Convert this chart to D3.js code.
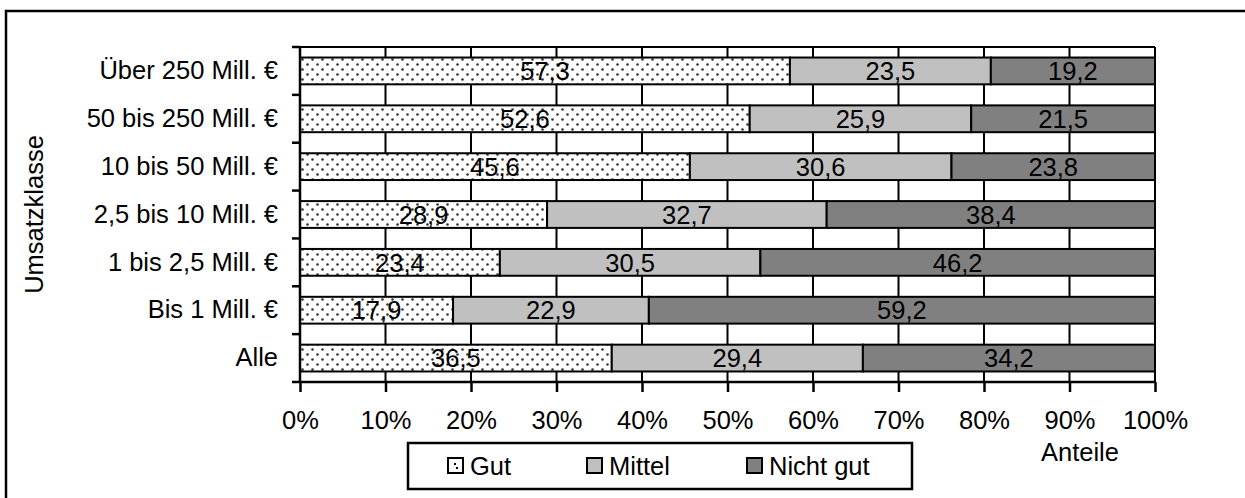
<!DOCTYPE html>
<html>
<head>
<meta charset="utf-8">
<script src="https://cdn.jsdelivr.net/npm/d3@7"></script>
<style>
  body { margin: 0; background: #fff; }
  text { font-family: "Liberation Sans", Arial, sans-serif; fill: #000; }
</style>
</head>
<body>
<script>
// 100% stacked horizontal bars, values per class

var categories = ["Über 250 Mill. €", "50 bis 250 Mill. €", "10 bis 50 Mill. €", "2,5 bis 10 Mill. €", "1 bis 2,5 Mill. €", "Bis 1 Mill. €", "Alle"];
var seriesNames = ["Gut", "Mittel", "Nicht gut"];
var gut      = [57.3, 52.6, 45.6, 28.9, 23.4, 17.9, 36.5];
var mittel   = [23.5, 25.9, 30.6, 32.7, 30.5, 22.9, 29.4];
var nichtGut = [19.2, 21.5, 23.8, 38.4, 46.2, 59.2, 34.2];
var xTicks = [0, 0.1, 0.2, 0.3, 0.4, 0.5, 0.6, 0.7, 0.8, 0.9, 1];

var width = 1245, height = 498;
var margin = {left: 300, right: 90, top: 47, bottom: 116};
var innerW = width - margin.left - margin.right;   // 855
var innerH = height - margin.top - margin.bottom;  // 335
var fs = 25.5;

var rows = categories.map(function(c, i) {
  return {cat: c, "Gut": gut[i], "Mittel": mittel[i], "Nicht gut": nichtGut[i]};
});

var stack = d3.stack().keys(seriesNames).offset(d3.stackOffsetExpand);
var layers = stack(rows);

var x = d3.scaleLinear().domain([0, 1]).range([0, innerW]);
var y = d3.scaleBand().domain(categories).range([0, innerH]).paddingInner(0.44).paddingOuter(0.22);

var svg = d3.select("body").append("svg").attr("width", width).attr("height", height);

// dotted fill for "Gut"
var defs = svg.append("defs");
var pat = defs.append("pattern").attr("id", "dots").attr("patternUnits", "userSpaceOnUse")
  .attr("width", 10).attr("height", 10);
pat.append("rect").attr("width", 10).attr("height", 10).attr("fill", "#fff");
pat.append("circle").attr("cx", 2.5).attr("cy", 2.5).attr("r", 1.3).attr("fill", "#333");
pat.append("circle").attr("cx", 7.5).attr("cy", 7.5).attr("r", 1.3).attr("fill", "#333");

var fills = {"Gut": "url(#dots)", "Mittel": "#c0c0c0", "Nicht gut": "#808080"};

// outer chart border
svg.append("rect").attr("x", 6).attr("y", 11).attr("width", 1260).attr("height", 500)
  .attr("fill", "none").attr("stroke", "#000").attr("stroke-width", 2.5);

var g = svg.append("g").attr("transform", "translate(" + margin.left + "," + margin.top + ")");

// gridlines
g.append("g").selectAll("line").data(xTicks.slice(1)).join("line")
  .attr("x1", function(d) { return x(d); }).attr("x2", function(d) { return x(d); })
  .attr("y1", 0).attr("y2", innerH)
  .attr("stroke", "#000").attr("stroke-width", 2);
g.append("line").attr("x1", 0).attr("x2", innerW).attr("y1", 0).attr("y2", 0)
  .attr("stroke", "#000").attr("stroke-width", 2);

// bars
var layer = g.selectAll("g.layer").data(layers).join("g").attr("class", "layer")
  .attr("fill", function(d) { return fills[d.key]; });
layer.selectAll("rect").data(function(d) { return d; }).join("rect")
  .attr("x", function(d) { return x(d[0]); })
  .attr("y", function(d) { return y(d.data.cat); })
  .attr("width", function(d) { return x(d[1]) - x(d[0]); })
  .attr("height", y.bandwidth())
  .attr("stroke", "#000").attr("stroke-width", 2);

// value labels
layers.forEach(function(l) {
  g.append("g").selectAll("text").data(l).join("text")
    .attr("x", function(d) { return (x(d[0]) + x(d[1])) / 2; })
    .attr("y", function(d) { return y(d.data.cat) + y.bandwidth() / 2; })
    .attr("dy", "0.36em")
    .attr("text-anchor", "middle")
    .attr("font-size", fs)
    .text(function(d) { return String(d.data[l.key]).replace(".", ","); });
});

// axes
var xAxis = d3.axisBottom(x).tickValues(xTicks).tickFormat(d3.format(".0%")).tickSize(10).tickPadding(19);
var gx = g.append("g").attr("transform", "translate(0," + innerH + ")").call(xAxis);
gx.select(".domain").attr("stroke-width", 2.5).attr("d", "M0,0H" + innerW);
gx.selectAll(".tick line").attr("stroke-width", 2.5);
gx.selectAll("text").attr("font-size", fs).attr("font-family", "Liberation Sans, Arial, sans-serif");

var yAxis = d3.axisLeft(y).tickSize(0).tickPadding(22);
var gy = g.append("g").call(yAxis);
gy.select(".domain").attr("stroke-width", 2.5).attr("d", "M0,0V" + innerH);
gy.selectAll("text").attr("font-size", fs).attr("font-family", "Liberation Sans, Arial, sans-serif");

// y ticks at band boundaries
var step = y.step();
g.append("g").selectAll("line").data(d3.range(categories.length + 1)).join("line")
  .attr("x1", -8).attr("x2", 0)
  .attr("y1", function(i) { return i * step; }).attr("y2", function(i) { return i * step; })
  .attr("stroke", "#000").attr("stroke-width", 2.5);

// axis titles
svg.append("text").attr("transform", "translate(43," + (margin.top + innerH / 2) + ") rotate(-90)")
  .attr("text-anchor", "middle").attr("font-size", fs).text("Umsatzklasse");
svg.append("text").attr("x", 1080).attr("y", 461).attr("text-anchor", "middle")
  .attr("font-size", fs).text("Anteile");

// legend
var lg = svg.append("g");
lg.append("rect").attr("x", 408).attr("y", 443).attr("width", 504).attr("height", 46)
  .attr("fill", "#fff").attr("stroke", "#000").attr("stroke-width", 2.5);
var legX = [448, 587, 747];
var item = lg.selectAll("g.item").data(seriesNames).join("g").attr("class", "item")
  .attr("transform", function(d, i) { return "translate(" + legX[i] + ",458)"; });
item.append("rect").attr("width", 15).attr("height", 15)
  .attr("fill", function(d) { return d === "Gut" ? "#fff" : fills[d]; })
  .attr("stroke", "#000").attr("stroke-width", 2);
item.filter(function(d) { return d === "Gut"; }).append("rect")
  .attr("x", 6).attr("y", 5).attr("width", 2).attr("height", 2).attr("fill", "#000");
item.filter(function(d) { return d === "Gut"; }).append("rect")
  .attr("x", 8).attr("y", 9).attr("width", 2).attr("height", 2).attr("fill", "#000");
item.append("text").attr("x", 22).attr("y", 7.5).attr("dy", "0.36em").attr("font-size", fs)
  .text(function(d) { return d; });
</script>
</body>
</html>
